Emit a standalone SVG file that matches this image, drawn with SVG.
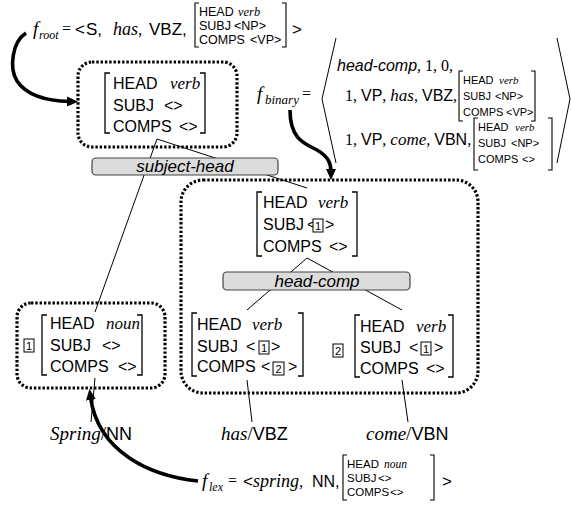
<svg xmlns="http://www.w3.org/2000/svg" width="571" height="508" viewBox="0 0 571 508">
  <style>
    .s { font-family: "Liberation Sans", Arial, sans-serif; }
    .t { font-family: "Liberation Serif", "Times New Roman", serif; }
    .i { font-style: italic; }
    .avm { font-family: "Liberation Sans", Arial, sans-serif; font-size: 16px; }
    .sm { font-family: "Liberation Sans", Arial, sans-serif; font-size: 11px; }
    .br { fill: none; stroke: #000; stroke-width: 1.3; }
    .brs { fill: none; stroke: #000; stroke-width: 1.1; }
    .dot { fill: none; stroke: #000; stroke-width: 3.2; stroke-dasharray: 2.4 1.9; }
    .bar { fill: #dcdcdc; stroke: #444; stroke-width: 1.2; }
    .tag { fill: #fff; stroke: #000; stroke-width: 1; }
    .tagn { font-family: "Liberation Sans", Arial, sans-serif; font-size: 11px; text-anchor: middle; }
    .edge { fill: none; stroke: #000; stroke-width: 1; }
    .arc { fill: none; stroke: #000; stroke-width: 3.6; }
  </style>
  <defs>
    <marker id="ah" markerUnits="userSpaceOnUse" markerWidth="13" markerHeight="10" refX="3" refY="5" orient="auto">
      <path d="M0,0 L11,5 L0,10 z" fill="#000"/>
    </marker>
  </defs>

  <!-- tree edges and rule arrows -->
  <g id="connectors">
    <line class="edge" x1="157" y1="139" x2="95" y2="312"/>
    <line class="edge" x1="157" y1="139" x2="307" y2="188"/>
    <line class="edge" x1="307" y1="258" x2="247" y2="310"/>
    <line class="edge" x1="307" y1="258" x2="402" y2="310"/>
    <line class="edge" x1="95" y1="378" x2="91" y2="422"/>
    <line class="edge" x1="247" y1="380" x2="252" y2="422"/>
    <line class="edge" x1="402" y1="380" x2="408" y2="422"/>
    <path class="arc" d="M26,33 C12,42 9,68 17,81 C27,96 48,101 70,101.5" marker-end="url(#ah)"/>
    <path class="arc" d="M290,110 C290,138 303,143 317,150 C329,157 331,164 331,172" marker-end="url(#ah)"/>
    <path class="arc" d="M198,481 C150,476 98,452 90.5,397" marker-end="url(#ah)"/>
  </g>

  <!-- rule labels on the branching points -->
  <g id="rule-subject-head">
    <rect class="bar" x="92" y="158" width="186" height="17" rx="4"/>
    <text class="s i" x="185" y="172" font-size="17" text-anchor="middle">subject-head</text>
  </g>
  <g id="rule-head-comp">
    <rect class="bar" x="223" y="272" width="187" height="18" rx="4"/>
    <text class="s i" x="317" y="287" font-size="17" text-anchor="middle">head-comp</text>
  </g>

  <!-- root node -->
  <g id="node-root">
    <rect class="dot" x="78" y="62" width="159" height="85" rx="14"/>
    <path class="br" d="M110,73 h-5 v60 h5"/>
    <path class="br" d="M200,73 h5 v60 h-5"/>
    <text class="avm" x="113" y="89">HEAD<tspan class="t i" x="170" font-size="17">verb</tspan></text>
    <text class="avm" x="113" y="111">SUBJ<tspan x="164">&lt;&gt;</tspan></text>
    <text class="avm" x="113" y="132">COMPS<tspan x="179">&lt;&gt;</tspan></text>
  </g>

  <!-- subject node -->
  <g id="node-subject">
    <rect class="dot" x="17" y="303" width="148" height="85" rx="14"/>
    <rect class="tag" x="24" y="339" width="10" height="13"/>
    <text class="tagn" x="29" y="350">1</text>
    <path class="br" d="M47,315 h-5 v60 h5"/>
    <path class="br" d="M137,315 h5 v60 h-5"/>
    <text class="avm" x="50" y="329">HEAD<tspan class="t i" x="106" font-size="17">noun</tspan></text>
    <text class="avm" x="50" y="351">SUBJ<tspan x="102">&lt;&gt;</tspan></text>
    <text class="avm" x="50" y="372">COMPS<tspan x="118">&lt;&gt;</tspan></text>
  </g>

  <!-- verb phrase node -->
  <g id="node-vp">
    <rect class="dot" x="181" y="180" width="297" height="213" rx="22"/>
    <path class="br" d="M262,192 h-5 v64 h5"/>
    <path class="br" d="M352,192 h5 v64 h-5"/>
    <text class="avm" x="263" y="208">HEAD<tspan class="t i" x="318" font-size="17">verb</tspan></text>
    <text class="avm" x="263" y="230">SUBJ<tspan x="307">&lt;</tspan><tspan x="325">&gt;</tspan></text>
    <rect class="tag" x="313" y="219" width="10" height="13"/>
    <text class="tagn" x="318" y="230">1</text>
    <text class="avm" x="263" y="252">COMPS<tspan x="329">&lt;&gt;</tspan></text>
  </g>

  <!-- head daughter: has -->
  <g id="node-has">
    <path class="br" d="M197,313 h-5 v63 h5"/>
    <path class="br" d="M298,313 h5 v63 h-5"/>
    <text class="avm" x="197" y="330">HEAD<tspan class="t i" x="252" font-size="17">verb</tspan></text>
    <text class="avm" x="197" y="352">SUBJ<tspan x="246">&lt;</tspan><tspan x="271">&gt;</tspan></text>
    <rect class="tag" x="259" y="341" width="10" height="13"/>
    <text class="tagn" x="264" y="352">1</text>
    <text class="avm" x="197" y="372">COMPS<tspan x="261">&lt;</tspan><tspan x="288">&gt;</tspan></text>
    <rect class="tag" x="273" y="362" width="11" height="13"/>
    <text class="tagn" x="278.5" y="373">2</text>
  </g>

  <!-- complement daughter: come -->
  <g id="node-come">
    <rect class="tag" x="333" y="344" width="10" height="13"/>
    <text class="tagn" x="338" y="355">2</text>
    <path class="br" d="M360,315 h-5 v62 h5"/>
    <path class="br" d="M448,315 h5 v62 h-5"/>
    <text class="avm" x="360" y="332">HEAD<tspan class="t i" x="416" font-size="17">verb</tspan></text>
    <text class="avm" x="360" y="353">SUBJ<tspan x="409">&lt;</tspan><tspan x="434">&gt;</tspan></text>
    <rect class="tag" x="421" y="342" width="10" height="13"/>
    <text class="tagn" x="426" y="353">1</text>
    <text class="avm" x="360" y="374">COMPS<tspan x="426">&lt;&gt;</tspan></text>
  </g>

  <!-- words -->
  <g id="word-spring">
    <text class="t i" x="50" y="440" font-size="19">Spring<tspan class="t" font-style="normal">/</tspan><tspan class="s" font-style="normal" font-size="18">NN</tspan></text>
  </g>
  <g id="word-has">
    <text class="t i" x="221" y="440" font-size="19">has<tspan class="t" font-style="normal">/</tspan><tspan class="s" font-style="normal" font-size="18">VBZ</tspan></text>
  </g>
  <g id="word-come">
    <text class="t i" x="366" y="440" font-size="19">come<tspan class="t" font-style="normal">/</tspan><tspan class="s" font-style="normal" font-size="18">VBN</tspan></text>
  </g>

  <!-- root rule -->
  <g id="f-root">
    <text class="t i" x="33" y="35" font-size="19">f</text>
    <text class="t i" x="39" y="39" font-size="12">root</text>
    <text class="t" x="62" y="34" font-size="16">=</text>
    <text class="s" x="75" y="35" font-size="17">&lt;<tspan x="86">S,</tspan><tspan class="t i" x="113" font-size="18">has</tspan><tspan class="t" font-size="17">,</tspan><tspan x="149">VBZ,</tspan></text>
    <path class="brs" d="M199,3 h-4 v44 h4"/>
    <path class="brs" d="M282,3 h4 v44 h-4"/>
    <text class="s" x="199" y="16" font-size="12.5">HEAD<tspan class="t i" x="238">verb</tspan></text>
    <text class="s" x="199" y="30" font-size="12.5">SUBJ<tspan x="234">&lt;NP&gt;</tspan></text>
    <text class="s" x="199" y="44" font-size="12.5">COMPS<tspan x="250">&lt;VP&gt;</tspan></text>
    <text class="s" x="292" y="35" font-size="17">&gt;</text>
  </g>

  <!-- binary rule -->
  <g id="f-binary">
    <text class="t i" x="257" y="100" font-size="19">f</text>
    <text class="t i" x="265" y="104" font-size="13">binary</text>
    <text class="t" x="302" y="99" font-size="16">=</text>
    <polyline class="edge" points="336,38 322,99 336,163"/>
    <polyline class="edge" points="557,38 570,99 557,163"/>
    <text class="s i" x="337" y="71" font-size="16">head-comp<tspan class="t" font-style="normal">, 1, 0,</tspan></text>
    <text class="t" x="345" y="101" font-size="16">1, <tspan class="s">VP</tspan>, <tspan class="i" font-size="17">has</tspan>, <tspan class="s">VBZ</tspan>,</text>
    <path class="brs" d="M463,71 h-4 v50 h4"/>
    <path class="brs" d="M531,71 h4 v50 h-4"/>
    <text class="sm" x="463" y="84">HEAD<tspan class="t i" x="499">verb</tspan></text>
    <text class="sm" x="463" y="100">SUBJ<tspan x="495">&lt;NP&gt;</tspan></text>
    <text class="sm" x="463" y="116">COMPS<tspan x="506">&lt;VP&gt;</tspan></text>
    <text class="t" x="345" y="145" font-size="16">1, <tspan class="s">VP</tspan>, <tspan class="i" font-size="17">come</tspan>, <tspan class="s">VBN</tspan>,</text>
    <path class="brs" d="M478,118 h-4 v52 h4"/>
    <path class="brs" d="M548,118 h4 v52 h-4"/>
    <text class="sm" x="478" y="131">HEAD<tspan class="t i" x="515">verb</tspan></text>
    <text class="sm" x="478" y="147">SUBJ<tspan x="511">&lt;NP&gt;</tspan></text>
    <text class="sm" x="478" y="163">COMPS<tspan x="522">&lt;&gt;</tspan></text>
  </g>

  <!-- lexical rule -->
  <g id="f-lex">
    <text class="t i" x="202" y="487" font-size="19">f</text>
    <text class="t i" x="209" y="491" font-size="12">lex</text>
    <text class="t" x="228" y="486" font-size="16">=</text>
    <text class="s" x="243" y="487" font-size="17">&lt;<tspan class="t i" font-size="18">spring</tspan><tspan class="t">,</tspan><tspan x="312" font-size="16">NN,</tspan></text>
    <path class="brs" d="M347,455 h-4 v45 h4"/>
    <path class="brs" d="M430,455 h4 v45 h-4"/>
    <text class="s" x="347" y="468" font-size="11.5">HEAD<tspan class="t i" x="384">noun</tspan></text>
    <text class="s" x="347" y="482" font-size="11.5">SUBJ<tspan x="378">&lt;&gt;</tspan></text>
    <text class="s" x="347" y="496" font-size="11.5">COMPS<tspan x="390">&lt;&gt;</tspan></text>
    <text class="s" x="442" y="487" font-size="17">&gt;</text>
  </g>
</svg>
